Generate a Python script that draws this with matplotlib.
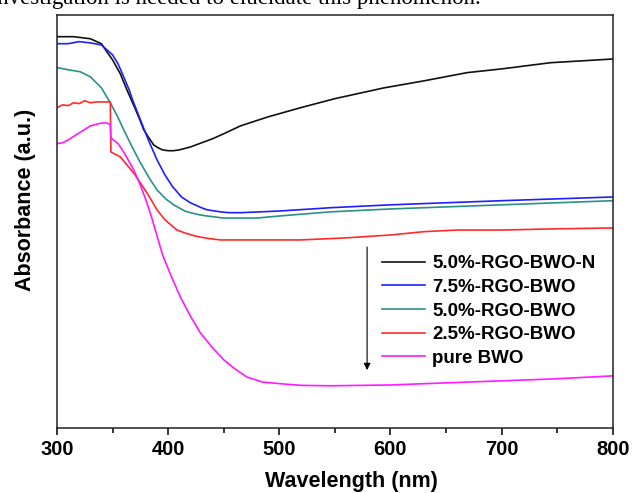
import matplotlib
matplotlib.use("Agg")
import matplotlib.pyplot as plt
from matplotlib.ticker import MultipleLocator

# ---------------- data ----------------
# absorbance in arbitrary units (0 = bottom of the frame, 1 = top of the frame)
wl_n = [300, 315, 330, 340, 345, 350, 357, 363, 370, 375, 378, 382, 387, 391,
        395, 400, 405, 410, 420, 430, 440, 450, 465, 490, 519, 550, 594, 630,
        669, 700, 744, 800]
abs_n = [0.947, 0.947, 0.942, 0.930, 0.910, 0.891, 0.857, 0.818, 0.775, 0.743,
         0.722, 0.705, 0.685, 0.678, 0.673, 0.671, 0.671, 0.673, 0.680, 0.690,
         0.700, 0.712, 0.731, 0.753, 0.775, 0.797, 0.823, 0.840, 0.860, 0.869,
         0.884, 0.893]

wl_75 = [300, 310, 320, 330, 340, 350, 355, 360, 365, 368, 375, 380, 383, 390,
         397, 404, 412, 420, 430, 435, 447, 455, 465, 500, 546, 600, 700, 800]
abs_75 = [0.930, 0.930, 0.935, 0.932, 0.927, 0.903, 0.881, 0.850, 0.818, 0.794,
          0.746, 0.712, 0.692, 0.649, 0.613, 0.584, 0.559, 0.545, 0.533, 0.528,
          0.523, 0.521, 0.521, 0.525, 0.533, 0.540, 0.550, 0.559]

wl_50 = [300, 310, 321, 330, 340, 348, 355, 360, 368, 375, 383, 390, 398, 405,
         415, 420, 428, 435, 450, 460, 480, 500, 546, 600, 700, 800]
abs_50 = [0.872, 0.867, 0.862, 0.850, 0.823, 0.787, 0.751, 0.722, 0.678, 0.642,
          0.605, 0.576, 0.554, 0.540, 0.525, 0.521, 0.516, 0.513, 0.508, 0.508,
          0.508, 0.513, 0.523, 0.530, 0.540, 0.550]

wl_25 = [300, 305, 310, 315, 320, 325, 330, 335, 340, 348, 348.5, 357, 369, 381,
         390, 397, 408, 415, 425, 435, 447, 500, 519, 560, 600, 630, 660, 700,
         750, 800]
abs_25 = [0.775, 0.782, 0.780, 0.787, 0.785, 0.792, 0.787, 0.789, 0.789, 0.789,
          0.668, 0.656, 0.617, 0.569, 0.528, 0.504, 0.479, 0.472, 0.464, 0.459,
          0.455, 0.455, 0.455, 0.460, 0.467, 0.475, 0.479, 0.479, 0.482, 0.484]

wl_pure = [300, 305, 310, 320, 330, 340, 345, 348, 348.5, 355, 360, 369, 375, 380,
           385, 390, 395, 403, 411, 420, 429, 440, 450, 460, 471, 485, 501, 520,
           546, 600, 650, 700, 750, 800]
abs_pure = [0.688, 0.690, 0.697, 0.714, 0.731, 0.738, 0.738, 0.734, 0.702, 0.688,
            0.668, 0.625, 0.588, 0.552, 0.511, 0.465, 0.419, 0.366, 0.317, 0.271,
            0.230, 0.194, 0.165, 0.143, 0.123, 0.111, 0.107, 0.103, 0.102, 0.104,
            0.109, 0.114, 0.119, 0.126]

labels = ["5.0%-RGO-BWO-N", "7.5%-RGO-BWO", "5.0%-RGO-BWO", "2.5%-RGO-BWO", "pure BWO"]
colors = ["#111111", "#1f1fff", "#2a9088", "#ff2a2a", "#ff1aff"]
xticks = [300, 400, 500, 600, 700, 800]

# ---------------- figure ----------------
plt.rcParams['font.family'] = ['Liberation Sans', 'DejaVu Sans']
fig = plt.figure(figsize=(6.33, 4.93), dpi=100)
ax = fig.add_axes([0.090, 0.132, 0.878, 0.838])

series = [(wl_n, abs_n), (wl_75, abs_75), (wl_50, abs_50), (wl_25, abs_25), (wl_pure, abs_pure)]
for (x, y), lab, c in zip(series, labels, colors):
    ax.plot(x, y, color=c, lw=1.2, label=lab)

ax.set_xlim(300, 800)
ax.set_ylim(0, 1.0)
ax.set_xticks(xticks)
ax.set_xticklabels([str(t) for t in xticks])
ax.xaxis.set_minor_locator(MultipleLocator(50))
ax.set_yticks([])
ax.tick_params(axis='x', which='major', direction='out', length=5, width=1.1,
               labelsize=14.5, pad=4)
ax.tick_params(axis='x', which='minor', direction='out', length=3.5, width=1.1)
for lbl in ax.get_xticklabels():
    lbl.set_fontweight('bold')
for s in ax.spines.values():
    s.set_linewidth(1.1)
    s.set_color('#222222')

ax.set_xlabel("Wavelength (nm)", fontsize=15.5, fontweight='bold')
ax.xaxis.set_label_coords(0.529, -0.105)
ax.set_ylabel("Absorbance (a.u.)", fontsize=15.5, fontweight='bold')
ax.yaxis.set_label_coords(-0.037, 0.552)

leg = ax.legend(loc='upper left', bbox_to_anchor=(0.585, 0.418), frameon=False,
                borderaxespad=0, borderpad=0, handlelength=2.3, handletextpad=0.37,
                labelspacing=0.345, prop={'weight': 'bold', 'size': 13.5})

ax.annotate("", xy=(579, 0.140), xytext=(579, 0.438),
            arrowprops=dict(arrowstyle='-|>', color='black', lw=0.8,
                            mutation_scale=10, shrinkA=0, shrinkB=0))

fig.text(0.76, 0.992, "investigation is needed to elucidate this phenomenon.",
         ha='right', va='baseline', fontsize=16.5, family=['Liberation Serif', 'DejaVu Serif'])

fig.savefig("out.png", dpi=100)
